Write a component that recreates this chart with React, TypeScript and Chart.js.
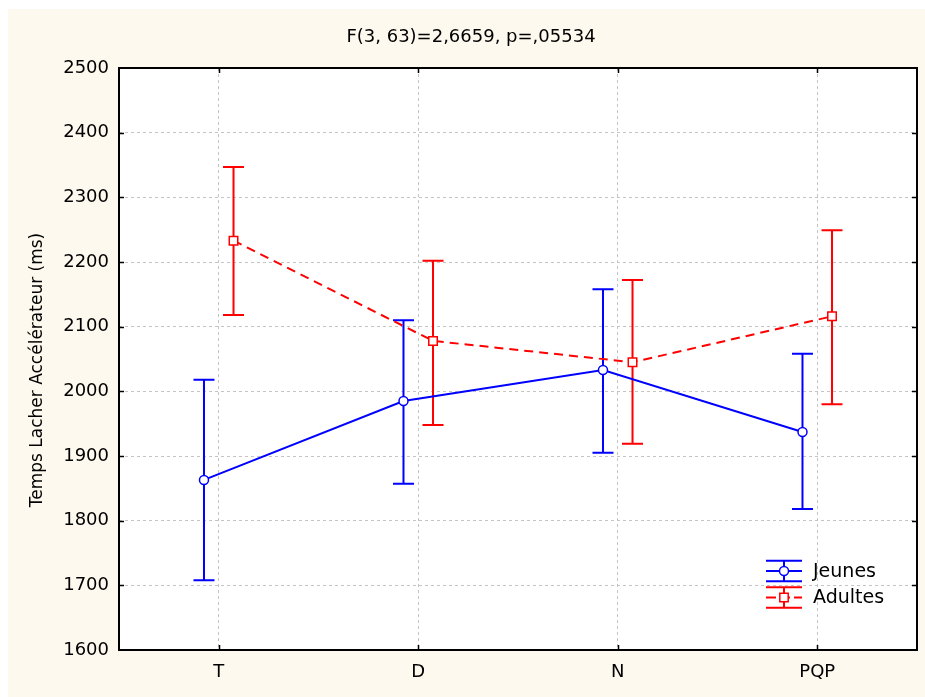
import React, { useEffect, useRef } from "react";
import { Chart, registerables } from "chart.js";

Chart.register(...registerables);

// ---- data ----
const categories = ["T", "D", "N", "PQP"];
const seriesNames = ["Jeunes", "Adultes"];
const jeunesMean = [1863, 1985, 2033, 1937];
const jeunesUpper = [2018, 2110, 2158, 2058];
const jeunesLower = [1708, 1857, 1905, 1818];
const adultesMean = [2233, 2078, 2045, 2116];
const adultesUpper = [2347, 2202, 2172, 2249];
const adultesLower = [2118, 1948, 1919, 1980];
const yMin = 1600;
const yMax = 2500;
const yStep = 100;
const titleText = "F(3, 63)=2,6659, p=,05534";
const yTitleText = "Temps Lacher Accélérateur (ms)";

// ---- style ----
const BLUE = "#0000ff";
const RED = "#ff0000";
const CREAM = "#fdf9ee";
const FONT = "DejaVu Sans";
const OFF = 0.074;
const CAP = 10.5;
const W = 917;
const H = 688;

const groups = [
  { mean: jeunesMean, upper: jeunesUpper, lower: jeunesLower, color: BLUE, off: -OFF },
  { mean: adultesMean, upper: adultesUpper, lower: adultesLower, color: RED, off: OFF },
];

const bgPlugin = {
  id: "bg",
  beforeDraw(chart: any) {
    const { ctx, chartArea: a } = chart;
    ctx.save();
    ctx.fillStyle = CREAM;
    ctx.fillRect(0, 0, chart.width, chart.height);
    ctx.fillStyle = "#ffffff";
    ctx.fillRect(a.left, a.top, a.right - a.left, a.bottom - a.top);
    ctx.restore();
  },
};

const errorBarPlugin = {
  id: "errorBars",
  beforeDatasetsDraw(chart: any) {
    const { ctx } = chart;
    const x = chart.scales.x;
    const y = chart.scales.y;
    ctx.save();
    ctx.lineWidth = 2;
    groups.forEach((g) => {
      ctx.strokeStyle = g.color;
      g.upper.forEach((u, i) => {
        const px = x.getPixelForValue(i + g.off);
        const pu = y.getPixelForValue(u);
        const pl = y.getPixelForValue(g.lower[i]);
        ctx.beginPath();
        ctx.moveTo(px, pu);
        ctx.lineTo(px, pl);
        ctx.moveTo(px - CAP, pu);
        ctx.lineTo(px + CAP, pu);
        ctx.moveTo(px - CAP, pl);
        ctx.lineTo(px + CAP, pl);
        ctx.stroke();
      });
    });
    ctx.restore();
  },
};

const framePlugin = {
  id: "frame",
  afterDatasetsDraw(chart: any) {
    const { ctx, chartArea: a } = chart;
    const x = chart.scales.x;
    const y = chart.scales.y;
    ctx.save();
    ctx.strokeStyle = "#000";
    ctx.lineWidth = 2;
    ctx.strokeRect(a.left, a.top, a.right - a.left, a.bottom - a.top);
    ctx.lineWidth = 1.5;
    ctx.beginPath();
    const TL = 5;
    for (let v = yMin + yStep; v < yMax; v += yStep) {
      const py = Math.round(y.getPixelForValue(v)) + 0.5;
      ctx.moveTo(a.left, py);
      ctx.lineTo(a.left + TL, py);
      ctx.moveTo(a.right, py);
      ctx.lineTo(a.right - TL, py);
    }
    categories.forEach((_, i) => {
      const px = Math.round(x.getPixelForValue(i)) + 0.5;
      ctx.moveTo(px, a.bottom);
      ctx.lineTo(px, a.bottom - TL);
      ctx.moveTo(px, a.top);
      ctx.lineTo(px, a.top + TL);
    });
    ctx.stroke();
    ctx.restore();
  },
};

const textPlugin = {
  id: "texts",
  afterDraw(chart: any) {
    const { ctx, chartArea: a } = chart;
    ctx.save();
    ctx.fillStyle = "#000";
    // title
    ctx.font = `18px "${FONT}"`;
    ctx.textAlign = "center";
    ctx.textBaseline = "middle";
    ctx.fillText(titleText, 471 - 8, 28);
    // y title
    ctx.save();
    ctx.translate(30, (a.top + a.bottom) / 2 + 11);
    ctx.rotate(-Math.PI / 2);
    ctx.font = `17px "${FONT}"`;
    ctx.fillText(yTitleText, 0, 0);
    ctx.restore();

    // legend
    const cx = a.right - 133;
    const tx = a.right - 104;
    const rows = [a.bottom - 79, a.bottom - 52.5];
    const half = 18;
    const capH = 10.3;
    ctx.lineWidth = 2;
    groups.forEach((g, k) => {
      const cy = rows[k];
      ctx.strokeStyle = g.color;
      ctx.setLineDash([]);
      ctx.beginPath();
      ctx.moveTo(cx - half, cy - capH);
      ctx.lineTo(cx + half, cy - capH);
      ctx.moveTo(cx - half, cy + capH);
      ctx.lineTo(cx + half, cy + capH);
      ctx.moveTo(cx, cy - capH);
      ctx.lineTo(cx, cy + capH);
      ctx.stroke();
      if (k === 1) ctx.setLineDash([10, 4]);
      ctx.beginPath();
      ctx.moveTo(cx - half, cy);
      ctx.lineTo(cx + half, cy);
      ctx.stroke();
      ctx.setLineDash([]);
      ctx.fillStyle = "#fff";
      ctx.lineWidth = 1.5;
      ctx.beginPath();
      if (k === 0) {
        ctx.arc(cx, cy, 4.5, 0, Math.PI * 2);
      } else {
        ctx.rect(cx - 4.2, cy - 4.2, 8.4, 8.4);
      }
      ctx.fill();
      ctx.stroke();
      ctx.lineWidth = 2;
      ctx.fillStyle = "#000";
      ctx.font = `19px "${FONT}"`;
      ctx.textAlign = "left";
      ctx.textBaseline = "middle";
      ctx.fillText(seriesNames[k], tx, cy + 1);
    });
    ctx.restore();
  },
};

export default function App() {
  const ref = useRef<HTMLCanvasElement | null>(null);
  useEffect(() => {
    if (!ref.current) return;
    const tickFont = { family: FONT, size: 18 };
    const chart = new Chart(ref.current, {
      type: "line",
      data: {
        datasets: [
          {
            label: seriesNames[0],
            data: jeunesMean.map((v, i) => ({ x: i - OFF, y: v })),
            borderColor: BLUE,
            borderWidth: 2,
            pointStyle: "circle",
            pointRadius: 4.5,
            pointBackgroundColor: "#fff",
            pointBorderColor: BLUE,
            pointBorderWidth: 1.5,
            tension: 0,
          },
          {
            label: seriesNames[1],
            data: adultesMean.map((v, i) => ({ x: i + OFF, y: v })),
            borderColor: RED,
            borderWidth: 2,
            borderDash: [9, 6],
            pointStyle: "rect",
            pointRadius: 6,
            pointBackgroundColor: "#fff",
            pointBorderColor: RED,
            pointBorderWidth: 1.5,
            tension: 0,
          },
        ],
      },
      options: {
        animation: false,
        responsive: false,
        devicePixelRatio: 1,
        layout: { padding: { left: 0, right: 8, top: 59, bottom: 0 } },
        plugins: {
          legend: { display: false },
          title: { display: false },
          tooltip: { enabled: false },
        },
        scales: {
          x: {
            type: "linear",
            min: -0.5,
            max: 3.5,
            afterBuildTicks: (s: any) => {
              s.ticks = categories.map((_, i) => ({ value: i }));
            },
            afterFit: (s: any) => {
              s.height = 47;
            },
            ticks: {
              callback: (v: any) => categories[v] ?? "",
              font: tickFont,
              color: "#000",
              padding: 12,
              autoSkip: false,
              maxRotation: 0,
            },
            grid: { color: "#c4c4c4", lineWidth: 1, drawTicks: false },
            border: { display: false, dash: [3, 3] },
          },
          y: {
            type: "linear",
            min: yMin,
            max: yMax,
            afterFit: (s: any) => {
              s.width = 111;
            },
            ticks: {
              stepSize: yStep,
              callback: (v: any) => String(v),
              font: tickFont,
              color: "#000",
              padding: 10,
            },
            grid: { color: "#c4c4c4", lineWidth: 1, drawTicks: false },
            border: { display: false, dash: [3, 3] },
          },
        },
      } as any,
      plugins: [bgPlugin, errorBarPlugin, framePlugin, textPlugin],
    });
    return () => chart.destroy();
  }, []);
  return (
    <div style={{ position: "fixed", left: 8, top: 9, width: W, height: H }}>
      <canvas ref={ref} width={W} height={H} style={{ display: "block", width: W, height: H }} />
    </div>
  );
}
